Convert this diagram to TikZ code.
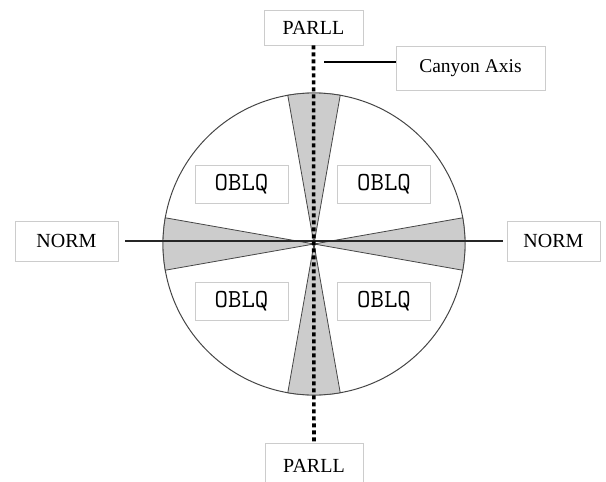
\documentclass[tikz,border=0pt]{standalone}
\usepackage{fontspec}
\setmainfont{Liberation Serif}
\usetikzlibrary{positioning, calc}

\begin{document}
\begin{tikzpicture}[x=1pt, y=-1pt, thick]
  \tikzstyle{tag} = [draw=gray!40, line width=0.8pt, inner sep=0pt, font=\fontsize{20}{24}\selectfont]
  \tikzstyle{oblq} = [tag, minimum width=93pt, minimum height=38pt, font=\ttfamily\fontsize{26}{30}\selectfont]
  \tikzstyle{sector} = [fill=gray!40, draw=gray!55!black, line width=0.8pt]
  \tikzstyle{canyon} = [line width=3.6pt, dash pattern=on 4pt off 3pt, black]

  \clip (0,0) rectangle (606,482);
  \useasboundingbox (0,0) rectangle (606,482);

  \node[circle, draw=gray!55!black, line width=1pt, minimum size=302pt, inner sep=0pt] (Disk) at (314,244) {};

  % shaded sectors round the two axes
  \foreach \from/\to in {80/100, 170/190, 260/280, -10/10}
    \draw[sector] (Disk.center) -- ($(Disk.center)+(\from:151pt)$)
      arc[start angle=\from, end angle=\to, radius=151pt] -- cycle;

  \node[tag, minimum width=99pt, minimum height=35pt] (ParTop) at (313.5,27.5) {PARLL};
  \node[tag, minimum width=98pt, minimum height=46pt] (ParBot) at (314,466) {PARLL};
  \node[tag, minimum width=103pt, minimum height=40pt] (NormL) at (66.5,241) {NORM};
  \node[tag, minimum width=93pt, minimum height=40pt] (NormR) at (553.5,241) {NORM};
  \node[tag, minimum width=149pt, minimum height=44pt, font=\fontsize{19.5}{23}\selectfont] (Canyon) at (470.5,68) {Canyon Axis};

  \node[oblq] (ObTL) at (241.5,184) {OBLQ};
  \node[oblq] (ObTR) at (384,184) {OBLQ};
  \node[oblq] (ObBL) at (241.5,301) {OBLQ};
  \node[oblq] (ObBR) at (384,301) {OBLQ};

  \coordinate (AxisPt) at (324,62);

  \draw[gray!30!black, line width=1.2pt, shorten <=7pt, shorten >=4pt] (NormL) -- (NormR);
  \draw[canyon] (ParTop) -- (ParBot);
  \draw[black, line width=1.2pt] (AxisPt) -- (AxisPt -| Canyon.west);
\end{tikzpicture}
\end{document}
